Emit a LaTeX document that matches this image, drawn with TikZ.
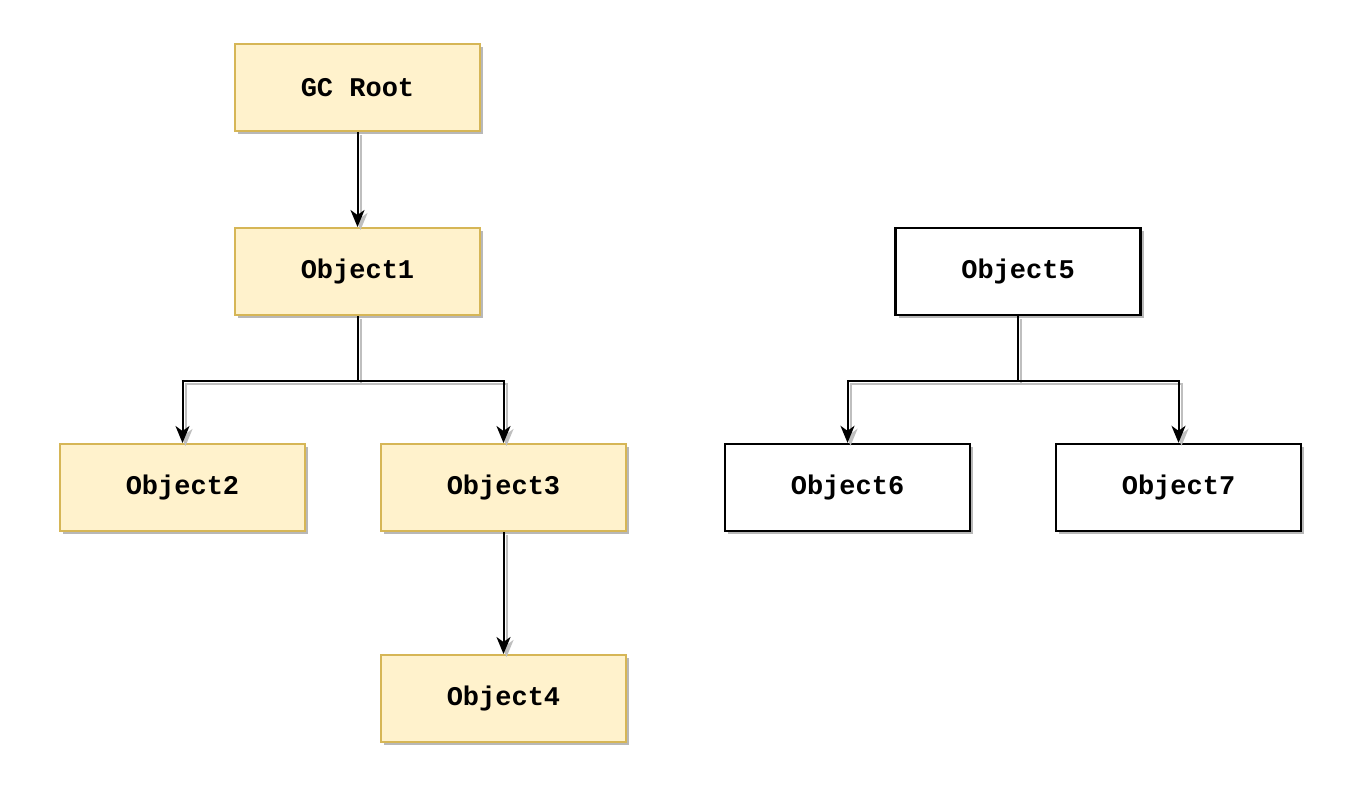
\documentclass[tikz,border=0pt]{standalone}
\usepackage{fontspec}
\newfontfamily\objfont{Liberation Mono}
\usepackage{tikz}
\usetikzlibrary{arrows.meta,shadows}

\definecolor{heapfill}{HTML}{FFF2CC}
\definecolor{heapline}{HTML}{D6B656}

\tikzset{
	objbox/.style={rectangle, minimum width=245, minimum height=87, inner sep=0pt,
		font={\objfont\bfseries\fontsize{27}{32}\selectfont},
		drop shadow={shadow xshift=3pt, shadow yshift=-3pt, fill=black!28, opacity=1}},
	live/.style={objbox, fill=heapfill, draw=heapline, line width=2pt},
	dead/.style={objbox, fill=white, draw=black, line width=2.4pt},
	link/.style={line width=2pt, -{Stealth[length=17pt, width=14pt, inset=5pt]},
		preaction={draw=black!25, line width=2pt, transform canvas={shift={(3pt,-3pt)}}}}
}

\begin{document}
\begin{tikzpicture}[x=1pt, y=-1pt]
	\useasboundingbox[fill=white] (0,0) rectangle (1367,789);
	% reachable from the root
	\node[live] (root) at (357.5,87.5) {GC Root};
	\node[live] (obj1) at (357.5,271.5) {Object1};
	\node[live] (obj2) at (182.5,487.5) {Object2};
	\node[live] (obj3) at (503.5,487.5) {Object3};
	\node[live] (obj4) at (503.5,698.5) {Object4};
	% unreachable group
	\node[dead] (obj5) at (1018,271.5) {Object5};
	\node[dead] (obj6) at (847.5,487.5) {Object6};
	\node[dead] (obj7) at (1178.5,487.5) {Object7};
	\draw[link] (root) -- (obj1);
	\draw[link] (obj1.south) -- ++(0,65) -| (obj2.north);
	\draw[link] (obj1.south) -- ++(0,65) -| (obj3.north);
	\draw[link] (obj3) -- (obj4);
	\draw[link] (obj5.south) -- ++(0,65) -| (obj6.north);
	\draw[link] (obj5.south) -- ++(0,65) -| (obj7.north);
\end{tikzpicture}
\end{document}
